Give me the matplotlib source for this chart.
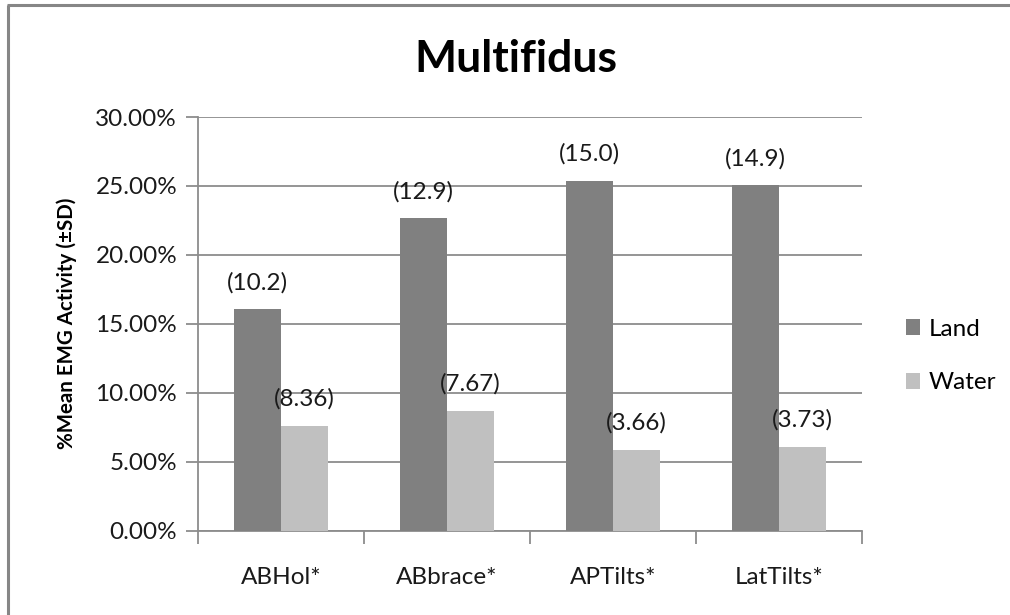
import matplotlib
matplotlib.use("Agg")
import matplotlib.pyplot as plt
from matplotlib.lines import Line2D
from matplotlib.patches import Patch
from matplotlib.ticker import FuncFormatter, MultipleLocator
import numpy as np

# Exercise categories and mean EMG activity (% of max), with SD labels
categories = ["ABHol*", "ABbrace*", "APTilts*", "LatTilts*"]
land_mean = [16.05, 22.65, 25.35, 25.05]
water_mean = [7.6, 8.7, 5.85, 6.05]
land_sd = ["(10.2)", "(12.9)", "(15.0)", "(14.9)"]
water_sd = ["(8.36)", "(7.67)", "(3.66)", "(3.73)"]
series_names = ["Land", "Water"]

FONT = "Lato"
plt.rcParams["font.family"] = [FONT, "DejaVu Sans"]

W, H = 1010, 615
fig = plt.figure(figsize=(W / 100, H / 100), dpi=100)
ax = fig.add_axes([198 / W, 1 - 530.5 / H, 664 / W, (530.5 - 117) / H])

land_color = "#808080"
water_color = "#c0c0c0"
grid_color = "#8c8c8c"
text_color = "#1a1a1a"
fs = 17.5

x = np.arange(len(categories))
w = 0.285
b1 = ax.bar(x - w / 2, land_mean, width=w, color=land_color, zorder=3, label=series_names[0])
b2 = ax.bar(x + w / 2, water_mean, width=w, color=water_color, zorder=3, label=series_names[1])

for bars, labels in ((b1, land_sd), (b2, water_sd)):
    for rect, lab in zip(bars, labels):
        ax.annotate(lab, (rect.get_x() + rect.get_width() / 2, rect.get_height()),
                    xytext=(0, 19.3), textcoords="offset points", ha="center", va="center",
                    fontsize=fs, color=text_color, zorder=4)

ax.set_xlim(-0.5, len(categories) - 0.5)
ax.set_ylim(0, 30)
ax.yaxis.set_major_locator(MultipleLocator(5))
ax.yaxis.set_major_formatter(FuncFormatter(lambda v, p: f"{v:.2f}%"))
ax.grid(axis="y", color=grid_color, linewidth=1.3, zorder=0)
ax.set_axisbelow(True)

for side in ("top", "right"):
    ax.spines[side].set_visible(False)
for side in ("left", "bottom"):
    ax.spines[side].set_color(grid_color)
    ax.spines[side].set_linewidth(1.3)

ax.set_xticks(x)
ax.set_xticklabels(categories, fontsize=fs, color=text_color)
ax.tick_params(axis="x", length=0, pad=26)
# category boundary ticks below the axis
ax.set_xticks(np.arange(-0.5, len(categories)), minor=True)
ax.tick_params(axis="x", which="minor", length=9, width=1.3, color=grid_color, direction="out")
ax.tick_params(axis="y", length=9, width=1.3, color=grid_color, direction="out",
               labelsize=fs, labelcolor=text_color, pad=6)

ax.set_ylabel("%Mean EMG Activity (±SD)", fontsize=14.8, fontweight="bold", labelpad=13)

fig.text(516 / W, 1 - 72 / H, "Multifidus", ha="center", va="baseline",
         fontsize=32, fontweight="bold", color="black")

handles = [Patch(facecolor=land_color, edgecolor="none"), Patch(facecolor=water_color, edgecolor="none")]
fig.legend(handles, series_names, loc="center left", bbox_to_anchor=(896 / W, 1 - 356 / H),
           frameon=False, fontsize=fs, handlelength=0.6, handleheight=0.6, handletextpad=0.35,
           labelspacing=1.35, borderaxespad=0)

# chart area frame (top and left edges)
frame_kw = dict(transform=fig.transFigure, color="#868686", linewidth=2.2, solid_capstyle="butt")
fig.add_artist(Line2D([8 / W, 8 / W], [0, 1 - 4.5 / H], **frame_kw))
fig.add_artist(Line2D([7 / W, 1], [1 - 4.5 / H, 1 - 4.5 / H], **frame_kw))

fig.savefig("out.png", dpi=100, facecolor="white")
